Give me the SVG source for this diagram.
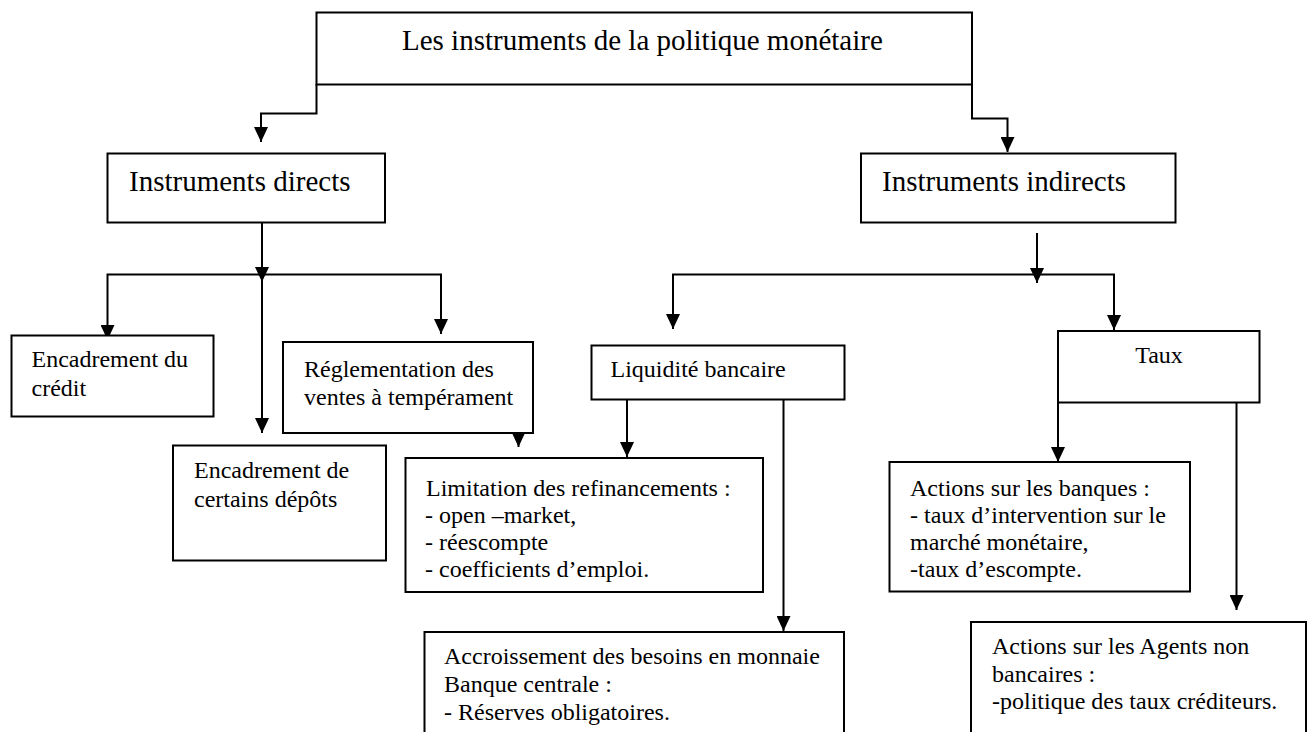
<svg xmlns="http://www.w3.org/2000/svg" width="1308" height="732" viewBox="0 0 1308 732">
<style>
.box{fill:#fff;stroke:#000;stroke-width:2}
.big{font-family:"Liberation Serif","Times New Roman",serif;font-size:29px;fill:#000}
.sm{font-family:"Liberation Serif","Times New Roman",serif;font-size:24px;fill:#000}
.con{fill:none;stroke:#000;stroke-width:2}
</style>
<defs>
<marker id="ah" markerUnits="userSpaceOnUse" markerWidth="15" markerHeight="14" refX="15" refY="7" orient="auto">
<path d="M0,0 L15,7 L0,14 z" fill="#000"/>
</marker>
</defs>
<rect width="1308" height="732" fill="#fff"/>
<g id="connectors">
<path class="con" d="M316.5,84 V113.5 H261 V142" marker-end="url(#ah)"/>
<path class="con" d="M972,84 V118.5 H1007.5 V152" marker-end="url(#ah)"/>
<path class="con" d="M262,222 V282" marker-end="url(#ah)"/>
<path class="con" d="M262,274 V433" marker-end="url(#ah)"/>
<path class="con" d="M262,274.5 H107.5 V340" marker-end="url(#ah)"/>
<path class="con" d="M262,274.5 H441 V334" marker-end="url(#ah)"/>
<path class="con" d="M518.5,432 V447" marker-end="url(#ah)"/>
<path class="con" d="M1037,233 V283" marker-end="url(#ah)"/>
<path class="con" d="M1037,274.5 H673 V329" marker-end="url(#ah)"/>
<path class="con" d="M1037,274.5 H1114 V330" marker-end="url(#ah)"/>
<path class="con" d="M627,400 V457" marker-end="url(#ah)"/>
<path class="con" d="M783.5,400 V631" marker-end="url(#ah)"/>
<path class="con" d="M1058,402 V462" marker-end="url(#ah)"/>
<path class="con" d="M1236.5,402 V610" marker-end="url(#ah)"/>
</g>
<g id="n-top">
<rect class="box" x="316.5" y="12.5" width="655.5" height="72"/>
<text class="big" x="402" y="49.5">Les instruments de la politique monétaire</text>
</g>
<g id="n-directs">
<rect class="box" x="107.5" y="153.5" width="277.5" height="69"/>
<text class="big" x="129" y="190.5">Instruments directs</text>
</g>
<g id="n-indirects">
<rect class="box" x="861" y="153.5" width="314.5" height="69"/>
<text class="big" x="882" y="190.5">Instruments indirects</text>
</g>
<g id="n-credit">
<rect class="box" x="11.5" y="335.5" width="202" height="81"/>
<text class="sm" x="31.5" y="367">Encadrement du</text>
<text class="sm" x="31.5" y="396">crédit</text>
</g>
<g id="n-depots">
<rect class="box" x="173" y="445.5" width="213" height="115"/>
<text class="sm" x="194" y="478">Encadrement de</text>
<text class="sm" x="194" y="507">certains dépôts</text>
</g>
<g id="n-reglementation">
<rect class="box" x="283" y="342" width="250" height="91"/>
<text class="sm" x="304" y="377">Réglementation des</text>
<text class="sm" x="304" y="405">ventes à tempérament</text>
</g>
<g id="n-liquidite">
<rect class="box" x="591.5" y="345.5" width="253" height="54"/>
<text class="sm" x="610.5" y="377">Liquidité bancaire</text>
</g>
<g id="n-taux">
<rect class="box" x="1058" y="331" width="201.5" height="71.5"/>
<text class="sm" x="1159" y="363" text-anchor="middle">Taux</text>
</g>
<g id="n-limitation">
<rect class="box" x="405.5" y="458" width="357.5" height="134"/>
<text class="sm" x="426" y="496">Limitation des refinancements :</text>
<text class="sm" x="425" y="523">- open –market,</text>
<text class="sm" x="425" y="550">- réescompte</text>
<text class="sm" x="425" y="577">- coefficients d’emploi.</text>
</g>
<g id="n-accroissement">
<rect class="box" x="424.5" y="632" width="419.5" height="110"/>
<text class="sm" x="444" y="664">Accroissement des besoins en monnaie</text>
<text class="sm" x="444" y="692">Banque centrale :</text>
<text class="sm" x="444" y="720">- Réserves obligatoires.</text>
</g>
<g id="n-banques">
<rect class="box" x="889.5" y="462" width="300.5" height="129.5"/>
<text class="sm" x="910" y="496">Actions sur les banques :</text>
<text class="sm" x="910" y="523">- taux d’intervention sur le</text>
<text class="sm" x="910" y="550">marché monétaire,</text>
<text class="sm" x="910" y="577">-taux d’escompte.</text>
</g>
<g id="n-agents">
<rect class="box" x="971" y="622" width="335" height="120"/>
<text class="sm" x="992" y="654">Actions sur les Agents non</text>
<text class="sm" x="992" y="682">bancaires :</text>
<text class="sm" x="992" y="709">-politique des taux créditeurs.</text>
</g>
</svg>
